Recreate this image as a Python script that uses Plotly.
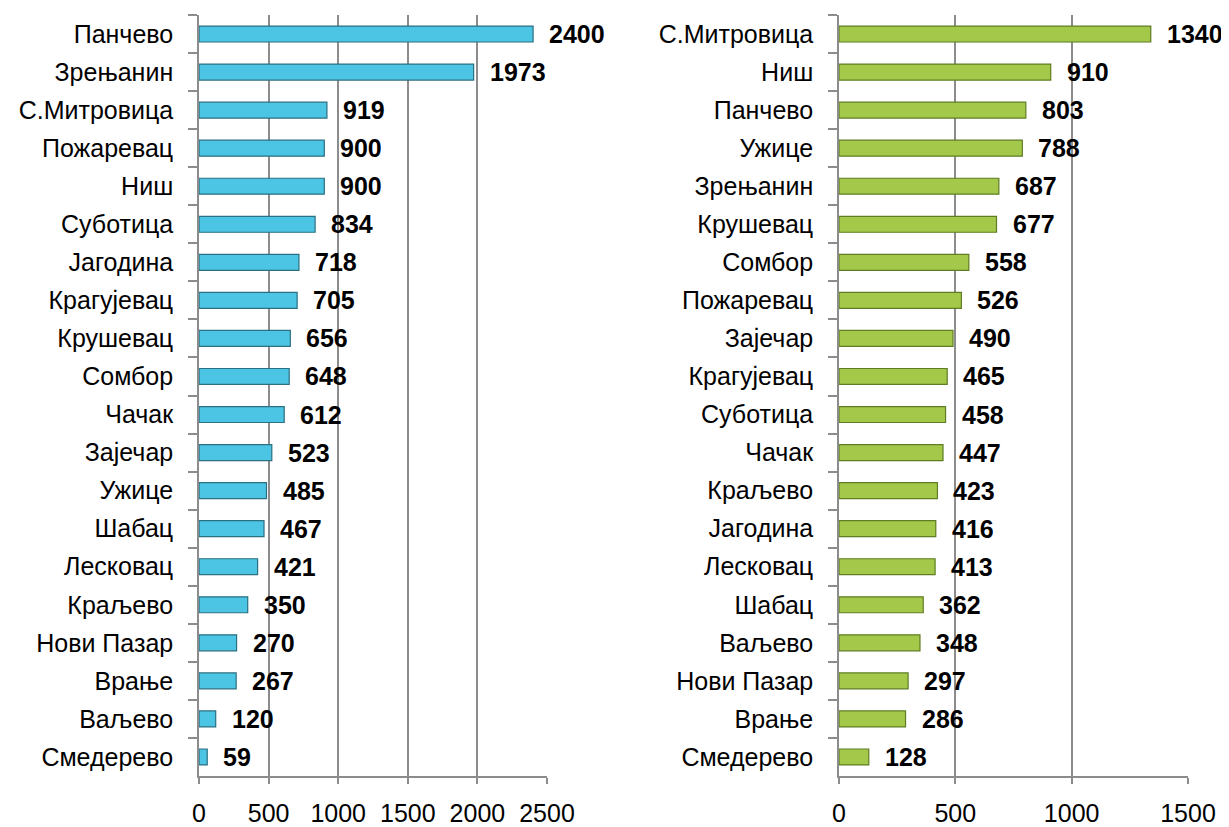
import plotly.graph_objects as go

left_cities = ["Панчево", "Зрењанин", "С.Митровица", "Пожаревац", "Ниш", "Суботица",
               "Јагодина", "Крагујевац", "Крушевац", "Сомбор", "Чачак", "Зајечар",
               "Ужице", "Шабац", "Лесковац", "Краљево", "Нови Пазар", "Врање",
               "Ваљево", "Смедерево"]
left_values = [2400, 1973, 919, 900, 900, 834, 718, 705, 656, 648, 612, 523,
               485, 467, 421, 350, 270, 267, 120, 59]

right_cities = ["С.Митровица", "Ниш", "Панчево", "Ужице", "Зрењанин", "Крушевац",
                "Сомбор", "Пожаревац", "Зајечар", "Крагујевац", "Суботица", "Чачак",
                "Краљево", "Јагодина", "Лесковац", "Шабац", "Ваљево", "Нови Пазар",
                "Врање", "Смедерево"]
right_values = [1340, 910, 803, 788, 687, 677, 558, 526, 490, 465, 458, 447,
                423, 416, 413, 362, 348, 297, 286, 128]

left_ticks = [0, 500, 1000, 1500, 2000, 2500]
right_ticks = [0, 500, 1000, 1500]

FONT = "Liberation Sans, Arial, sans-serif"
GRID = "#8c8c8c"

fig = go.Figure()
fig.add_trace(go.Bar(
    y=left_cities, x=left_values, orientation="h", width=0.42,
    marker=dict(color="#4cc4e4", line=dict(color="#2b6f80", width=1.2)),
    xaxis="x", yaxis="y", showlegend=False, hoverinfo="x+y"))
fig.add_trace(go.Bar(
    y=right_cities, x=right_values, orientation="h", width=0.42,
    marker=dict(color="#a3c84a", line=dict(color="#5f7d22", width=1.2)),
    xaxis="x2", yaxis="y2", showlegend=False, hoverinfo="x+y"))

annotations = []
for c, v in zip(left_cities, left_values):
    annotations.append(dict(x=v, y=c, xref="x", yref="y", text=str(v),
                            showarrow=False, xanchor="left", xshift=14,
                            font=dict(family=FONT, size=25, color="black", weight="bold")))
for c, v in zip(right_cities, right_values):
    annotations.append(dict(x=v, y=c, xref="x2", yref="y2", text=str(v),
                            showarrow=False, xanchor="left", xshift=14,
                            font=dict(family=FONT, size=25, color="black", weight="bold")))

# page body has an 8px margin, so figure is sized to fit the window
W, H = 1221, 819
ydom = [1 - 768 / H, 1 - 7 / H]

xcommon = dict(showgrid=True, gridcolor=GRID, gridwidth=1.6, showline=True,
               linecolor=GRID, linewidth=1.6, ticks="outside", ticklen=6,
               tickcolor=GRID, tickwidth=1.6, zeroline=False,
               tickfont=dict(family=FONT, size=25, color="black"),
               ticklabelstandoff=8, fixedrange=True, automargin=False)
ycommon = dict(type="category", autorange="reversed", showgrid=False,
               showline=True, linecolor=GRID, linewidth=1.6, ticks="outside",
               tickson="boundaries", ticklen=9, tickcolor=GRID, tickwidth=1.6,
               tickfont=dict(family=FONT, size=25, color="black"),
               ticklabelstandoff=19, fixedrange=True, automargin=False)

fig.update_layout(
    width=W, height=H, paper_bgcolor="white", plot_bgcolor="white",
    margin=dict(l=0, r=0, t=0, b=0),
    xaxis=dict(domain=[191 / W, 539 / W], range=[0, 2500], tickvals=left_ticks,
               anchor="y", **xcommon),
    yaxis=dict(domain=ydom, anchor="x", **ycommon),
    xaxis2=dict(domain=[831 / W, 1180 / W], range=[0, 1500], tickvals=right_ticks,
                anchor="y2", **xcommon),
    yaxis2=dict(domain=ydom, anchor="x2", **ycommon),
    annotations=annotations,
)

fig.write_html("out.html")
